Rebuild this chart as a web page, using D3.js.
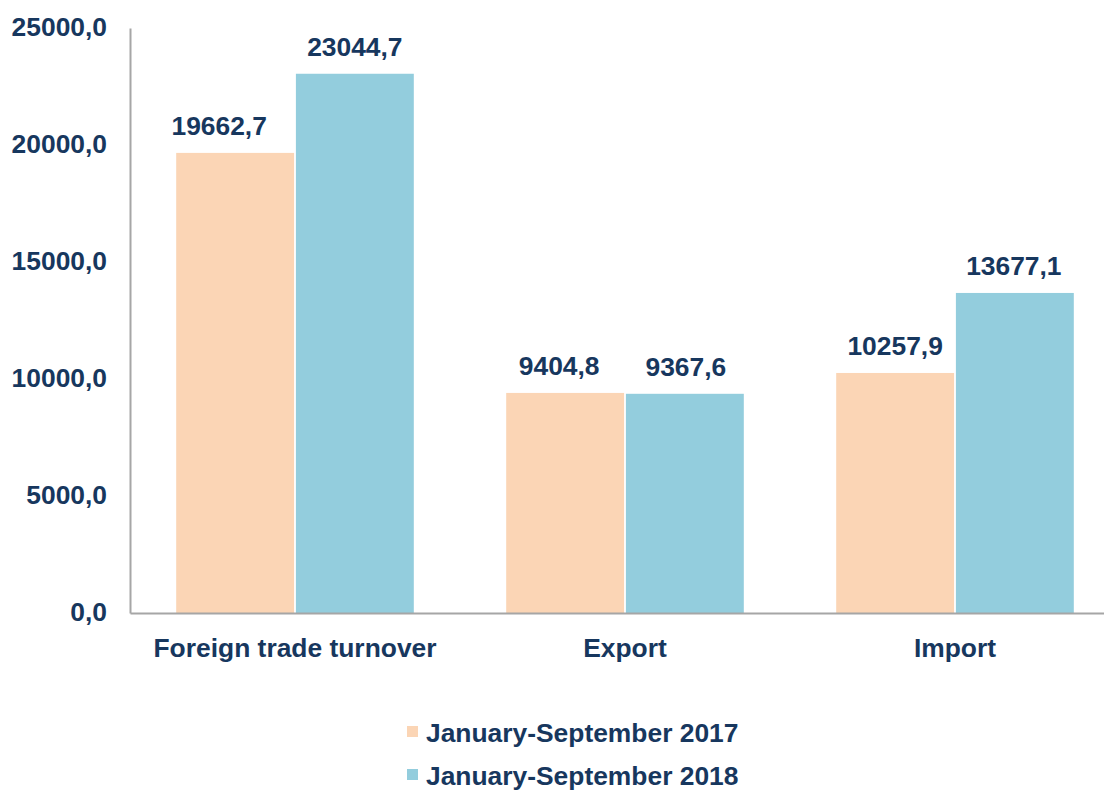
<!DOCTYPE html>
<html>
<head>
<meta charset="utf-8">
<script src="https://cdn.jsdelivr.net/npm/d3@7"></script>
<style>
  body { margin: 0; background: #fff; }
  text { font-family: "Liberation Sans", Arial, sans-serif; font-weight: bold; fill: #17375E; }
</style>
</head>
<body>
<svg id="chart" width="1104" height="791"></svg>
<script>
// data
var categories = ["Foreign trade turnover", "Export", "Import"];
var seriesNames = ["January-September 2017", "January-September 2018"];
var values2017 = [19662.7, 9404.8, 10257.9];
var values2018 = [23044.7, 9367.6, 13677.1];
var yTicks = [0, 5000, 10000, 15000, 20000, 25000];

// small nudges of the value labels, as in the original chart (px)
var labelNudge = [[-16, 0], [-6, 1], [0, -1]];

var colors = ["#FBD5B5", "#93CDDD"];
var fontSize = "26.4px";
var fmt = function(v) { return d3.format(".1f")(v).replace(".", ","); };

var svg = d3.select("#chart");

var x = d3.scaleBand()
  .domain(categories)
  .range([130, 1120])
  .paddingInner(0.28)
  .paddingOuter(0.14);

var x1 = d3.scaleBand()
  .domain(seriesNames)
  .range([0, x.bandwidth()])
  .paddingInner(0.015);

var y = d3.scaleLinear()
  .domain([0, 25000])
  .range([613, 28]);

var rows = categories.map(function(c, i) {
  return { cat: c, i: i, vals: [values2017[i], values2018[i]] };
});

// bars
var groups = svg.selectAll("g.grp")
  .data(rows)
  .enter()
  .append("g")
  .attr("class", "grp")
  .attr("transform", function(d) { return "translate(" + x(d.cat) + ",0)"; });

groups.selectAll("rect")
  .data(function(d) { return d.vals.map(function(v, j) { return { s: seriesNames[j], v: v, j: j }; }); })
  .enter()
  .append("rect")
  .attr("x", function(d) { return x1(d.s); })
  .attr("width", x1.bandwidth())
  .attr("y", function(d) { return y(d.v); })
  .attr("height", function(d) { return y(0) - y(d.v); })
  .style("fill", function(d) { return colors[d.j]; });

groups.selectAll("text.val")
  .data(function(d) { return d.vals.map(function(v, j) { return { s: seriesNames[j], v: v, dx: labelNudge[d.i][j] }; }); })
  .enter()
  .append("text")
  .attr("class", "val")
  .attr("x", function(d) { return x1(d.s) + x1.bandwidth() / 2 + d.dx; })
  .attr("y", function(d) { return y(d.v) - 18; })
  .attr("text-anchor", "middle")
  .style("font-size", fontSize)
  .text(function(d) { return fmt(d.v); });

// y axis
var yAxis = svg.append("g")
  .attr("transform", "translate(130,0)")
  .call(d3.axisLeft(y).tickValues(yTicks).tickSize(0).tickPadding(23).tickFormat(fmt));
yAxis.select(".domain").attr("stroke", "#A6A6A6").attr("stroke-width", 2);
yAxis.selectAll("text").style("font-size", fontSize).attr("fill", "#17375E").attr("dy", "0.28em");

// x axis
var xAxis = svg.append("g")
  .attr("transform", "translate(0,613)")
  .call(d3.axisBottom(x).tickSize(0).tickPadding(25));
xAxis.select(".domain").attr("stroke", "#A6A6A6").attr("stroke-width", 2);
xAxis.selectAll("text").style("font-size", fontSize).attr("fill", "#17375E");

// legend
var legend = svg.selectAll("g.leg")
  .data(seriesNames)
  .enter()
  .append("g")
  .attr("class", "leg")
  .attr("transform", function(d, i) { return "translate(407," + (726 + i * 43) + ")"; });

legend.append("rect")
  .attr("width", 11)
  .attr("height", 11)
  .style("fill", function(d, i) { return colors[i]; });

legend.append("text")
  .attr("x", 19)
  .attr("y", 16)
  .style("font-size", fontSize)
  .text(function(d) { return d; });
</script>
</body>
</html>
